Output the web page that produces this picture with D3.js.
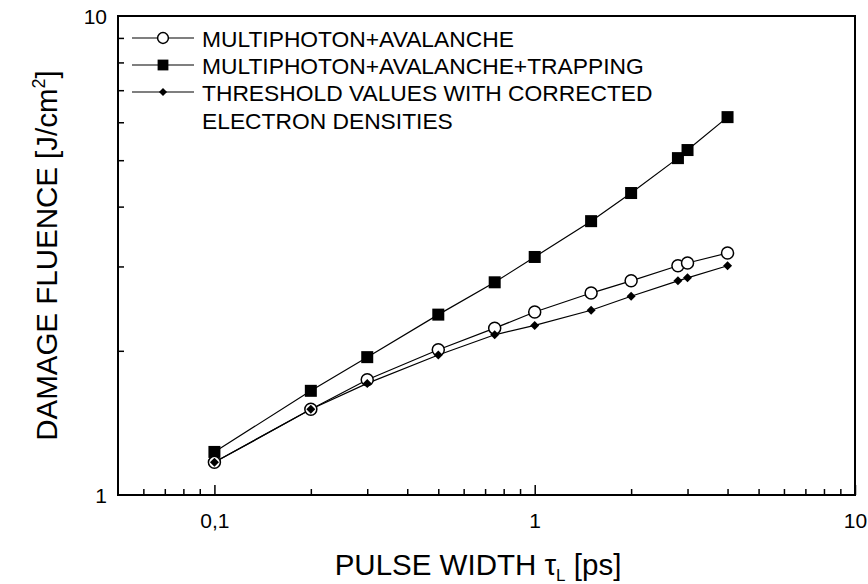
<!DOCTYPE html>
<html>
<head>
<meta charset="utf-8">
<script src="https://cdn.jsdelivr.net/npm/d3@7"></script>
<style>
  body { margin: 0; background: #fff; }
  svg { font-family: "Liberation Sans", Arial, sans-serif; }
</style>
</head>
<body>
<div id="chart"></div>
<script>
// pulse width in ps, fluence in J/cm^2
const pulseWidth = [0.1, 0.2, 0.3, 0.5, 0.75, 1, 1.5, 2, 2.8, 3, 4];
const multiphotonAvalanche = [1.17, 1.51, 1.74, 2.01, 2.23, 2.41, 2.64, 2.80, 3.01, 3.05, 3.20];
const withTrapping = [1.23, 1.65, 1.94, 2.38, 2.78, 3.14, 3.73, 4.27, 5.05, 5.25, 6.15];
const correctedDensities = [1.17, 1.51, 1.71, 1.96, 2.16, 2.26, 2.43, 2.60, 2.80, 2.84, 3.01];

const xMajorTicks = [0.1, 1, 10];
const xTickLabels = ['0,1', '1', '10'];
const yMajorTicks = [1, 10];
const yTickLabels = ['1', '10'];
const legendLabels = [
  ['MULTIPHOTON+AVALANCHE'],
  ['MULTIPHOTON+AVALANCHE+TRAPPING'],
  ['THRESHOLD VALUES WITH CORRECTED', 'ELECTRON DENSITIES']
];

const svgWidth = 868;
const svgHeight = 584;
const margin = {top: 16, right: 13, bottom: 89, left: 118};
const width = svgWidth - margin.left - margin.right;
const height = svgHeight - margin.top - margin.bottom;

const svg = d3.select('#chart').append('svg')
  .attr('width', svgWidth)
  .attr('height', svgHeight);

const g = svg.append('g')
  .attr('transform', `translate(${margin.left},${margin.top})`);

const x = d3.scaleLog().domain([0.05, 10]).range([0, width]);
const y = d3.scaleLog().domain([1, 10]).range([height, 0]);

// minor ticks: every integer multiple inside each decade
const minorX = [];
[0.01, 0.1, 1].forEach(d => { for (let k = 2; k <= 9; k++) minorX.push(+(d * k).toFixed(3)); });
const minorXIn = minorX.filter(v => v > 0.05 && v < 10);
const minorY = d3.range(2, 10);

const fmtX = d => xTickLabels[xMajorTicks.indexOf(d)];
const fmtY = d => yTickLabels[yMajorTicks.indexOf(d)];

// ticks point inward
g.append('g').attr('class', 'axis x-minor')
  .attr('transform', `translate(0,${height})`)
  .call(d3.axisBottom(x).tickValues(minorXIn).tickSize(-6).tickFormat(''));

g.append('g').attr('class', 'axis x-major')
  .attr('transform', `translate(0,${height})`)
  .call(d3.axisBottom(x).tickValues(xMajorTicks).tickSize(-10).tickPadding(18).tickFormat(fmtX));

g.append('g').attr('class', 'axis y-minor')
  .call(d3.axisLeft(y).tickValues(minorY).tickSize(-6).tickFormat(''));

const yAxis = g.append('g').attr('class', 'axis y-major')
  .call(d3.axisLeft(y).tickValues(yMajorTicks).tickSize(0).tickPadding(11).tickFormat(fmtY));

g.selectAll('.axis .domain').remove();
g.selectAll('.axis line').attr('stroke', '#000').attr('stroke-width', 1.5);
g.selectAll('.axis text')
  .attr('fill', '#000')
  .style('font-size', '21px')
  .style('font-family', '"Liberation Sans", Arial, sans-serif');
yAxis.selectAll('text').attr('dy', '0.35em');

// frame
g.append('rect')
  .attr('width', width)
  .attr('height', height)
  .attr('fill', 'none')
  .attr('stroke', '#000')
  .attr('stroke-width', 2);

const line = d3.line().x(d => x(d[0])).y(d => y(d[1]));
const pairs = vals => pulseWidth.map((p, i) => [p, vals[i]]);

const seriesList = [
  {values: withTrapping, marker: 'square'},
  {values: multiphotonAvalanche, marker: 'circle'},
  {values: correctedDensities, marker: 'diamond'}
];

seriesList.forEach(s => {
  g.append('path')
    .datum(pairs(s.values))
    .attr('fill', 'none')
    .attr('stroke', '#000')
    .attr('stroke-width', 1.2)
    .attr('d', line);
});

function drawMarker(sel, type, cx, cy, scale) {
  const k = scale || 1;
  if (type === 'circle') {
    sel.append('circle')
      .attr('cx', cx).attr('cy', cy).attr('r', 6 * k)
      .attr('fill', '#fff').attr('stroke', '#000').attr('stroke-width', 1.5);
  } else if (type === 'square') {
    const s = 12 * k;
    sel.append('rect')
      .attr('x', cx - s / 2).attr('y', cy - s / 2)
      .attr('width', s).attr('height', s)
      .attr('fill', '#000');
  } else {
    const r = 4.5 * k;
    sel.append('path')
      .attr('d', `M${cx},${cy - r}L${cx + r},${cy}L${cx},${cy + r}L${cx - r},${cy}Z`)
      .attr('fill', '#000');
  }
}

seriesList.forEach(s => {
  const mg = g.append('g');
  pairs(s.values).forEach(d => drawMarker(mg, s.marker, x(d[0]), y(d[1])));
});

// legend
const legend = svg.append('g').attr('class', 'legend');
const legendMarkers = ['circle', 'square', 'diamond'];
const legendRows = [38, 65, 92];
legendRows.forEach((ly, i) => {
  legend.append('line')
    .attr('x1', 132).attr('x2', 194)
    .attr('y1', ly).attr('y2', ly)
    .attr('stroke', '#000').attr('stroke-width', 1.2);
  drawMarker(legend, legendMarkers[i], 163, ly, 0.9);
  legendLabels[i].forEach((t, j) => {
    legend.append('text')
      .attr('x', 202)
      .attr('y', ly + 9 + j * 28)
      .style('font-size', '22.8px')
      .text(t);
  });
});

// axis titles
const xTitle = svg.append('text')
  .attr('x', 478)
  .attr('y', 575)
  .attr('text-anchor', 'middle')
  .style('font-size', '29.5px');
xTitle.append('tspan').text('PULSE WIDTH \u03C4');
xTitle.append('tspan').attr('dy', 6).style('font-size', '17px').text('L');
xTitle.append('tspan').attr('dy', -6).text(' [ps]');

const yTitle = svg.append('text')
  .attr('transform', `translate(57,${margin.top + height / 2}) rotate(-90)`)
  .attr('text-anchor', 'middle')
  .style('font-size', '29.5px');
yTitle.append('tspan').text('DAMAGE FLUENCE [J/cm');
yTitle.append('tspan').attr('dy', -12).style('font-size', '18px').text('2');
yTitle.append('tspan').attr('dy', 12).text(']');
</script>
</body>
</html>
